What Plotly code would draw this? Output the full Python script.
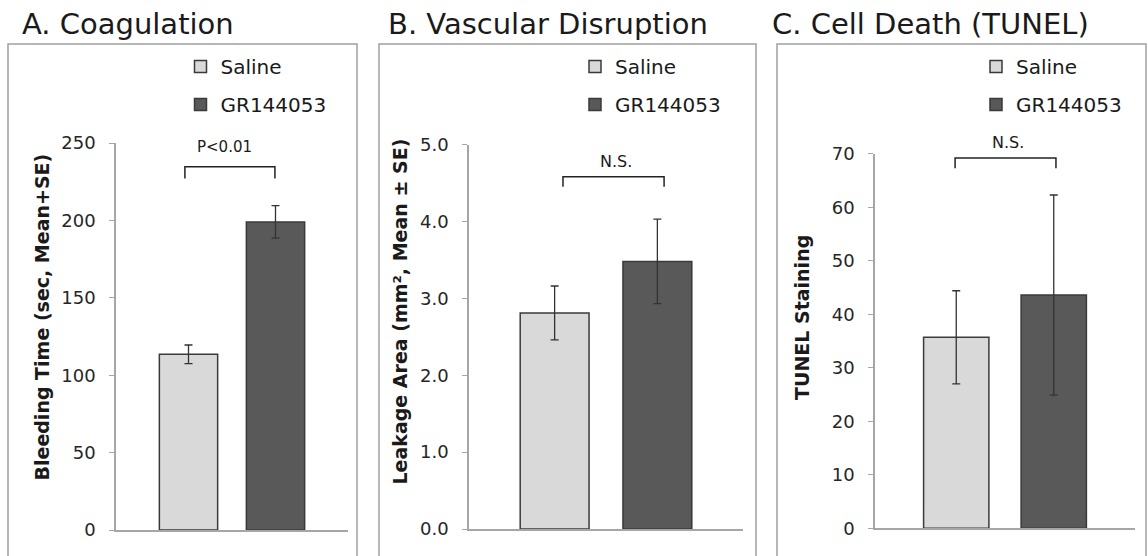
import plotly.graph_objects as go

# ---------------- data ----------------
groups = ["Saline", "GR144053"]
bar_colors = ["#d9d9d9", "#595959"]

coag_mean = [113.5, 199.0]
coag_se = [6.0, 10.5]

leak_mean = [2.81, 3.48]
leak_se = [0.35, 0.55]

tunel_mean = [35.7, 43.6]
tunel_se = [8.7, 18.7]

panel_titles = ["A. Coagulation", "B. Vascular Disruption", "C. Cell Death (TUNEL)"]
y_titles = ["Bleeding Time (sec, Mean+SE)", "Leakage Area (mm², Mean ± SE)", "TUNEL Staining"]
y_ranges = [[0, 250], [0, 5.0], [0, 70]]
y_dticks = [50, 1.0, 10]
y_formats = ["d", ".1f", "d"]
sig_labels = ["P<0.01", "N.S.", "N.S."]

W, H = 1148, 556
FONT = "DejaVu Sans"
TXT = "#1a1a1a"
GRID = "#a6a6a6"


def px(x):
    return x / W


def py(y):
    return 1 - y / H


fig = go.Figure()

series = [(coag_mean, coag_se), (leak_mean, leak_se), (tunel_mean, tunel_se)]
legend_names = ["legend", "legend2", "legend3"]

for p, (means, ses) in enumerate(series):
    ax = "" if p == 0 else str(p + 1)
    for g in range(2):
        fig.add_trace(go.Bar(
            x=["grp"], y=[means[g]], name=groups[g],
            marker=dict(color=bar_colors[g], line=dict(color="#3a3a3a", width=1.5)),
            error_y=dict(type="data", array=[ses[g]], visible=True,
                         color="#333333", thickness=1.3, width=4),
            xaxis="x" + ax, yaxis="y" + ax,
            legend=legend_names[p], legendgroup=f"g{p}{g}",
            showlegend=True,
        ))

x_dom = [(116, 348), (469, 743), (875, 1135)]
y_dom = [(530, 143), (529, 144.5), (528.3, 153.8)]

layout = dict(
    width=W, height=H,
    margin=dict(l=0, r=0, t=0, b=0, autoexpand=False),
    paper_bgcolor="white", plot_bgcolor="white",
    barmode="group", bargap=0.25, bargroupgap=0.33,
    font=dict(family=FONT, color=TXT),
    showlegend=True,
)

for p in range(3):
    ax = "" if p == 0 else str(p + 1)
    layout["xaxis" + ax] = dict(
        domain=[px(x_dom[p][0]), px(x_dom[p][1])],
        anchor="y" + ax, type="category", range=[-0.5, 0.5],
        showline=True, linecolor=GRID, linewidth=1.5,
        showticklabels=False, ticks="", showgrid=False, zeroline=False,
        fixedrange=True, automargin=False,
    )
    layout["yaxis" + ax] = dict(
        domain=[py(y_dom[p][0]), py(y_dom[p][1])],
        anchor="x" + ax, range=y_ranges[p], dtick=y_dticks[p],
        tickformat=y_formats[p],
        showline=True, linecolor=GRID, linewidth=1.5,
        ticks="outside", ticklen=5, tickcolor=GRID, tickwidth=1.2,
        ticklabelstandoff=10,
        tickfont=dict(size=18, color="#262626", family=FONT),
        showgrid=False, zeroline=False, fixedrange=True, automargin=False,
    )

# legends
leg_pos = [200.5, 595, 996]
for p in range(3):
    layout[legend_names[p]] = dict(
        x=px(leg_pos[p] - 20), xanchor="left",
        y=py(47), yanchor="top",
        bgcolor="rgba(0,0,0,0)", borderwidth=0,
        font=dict(size=20, color=TXT, family=FONT),
        traceorder="grouped", tracegroupgap=9,
        itemclick=False, itemdoubleclick=False,
    )

fig.update_layout(**layout)

# frames around each panel
frames = [(8, 357), (379, 756), (777, 1146)]
for (x0, x1) in frames:
    fig.add_shape(type="rect", xref="paper", yref="paper",
                  x0=px(x0), x1=px(x1), y0=-0.02, y1=py(44),
                  line=dict(color="#a0a0a0", width=1.5), fillcolor="rgba(0,0,0,0)",
                  layer="below")

# panel titles
title_x = [20, 386, 770]
for p in range(3):
    fig.add_annotation(text=panel_titles[p], xref="paper", yref="paper",
                       x=px(title_x[p]), y=py(24), xanchor="left", yanchor="middle",
                       showarrow=False, font=dict(size=29, color=TXT, family=FONT))

# y-axis titles
yt_pos = [(41, 317.5), (399, 311.5), (802, 318)]
for p in range(3):
    fig.add_annotation(text=y_titles[p], xref="paper", yref="paper",
                       x=px(yt_pos[p][0]), y=py(yt_pos[p][1]),
                       xanchor="center", yanchor="middle", textangle=-90,
                       showarrow=False,
                       font=dict(size=19, color=TXT, family=FONT, weight="bold"))

# significance brackets
br_x = [(-0.203, 0.185), (-0.157, 0.212), (-0.192, 0.196)]
br_y = [(227, 234.7), (4.45, 4.58), (67.3, 69.2)]
lab_xy = [(224, 146.7), (615.5, 162), (1007.5, 143)]
lab_size = [15, 16, 16]
for p in range(3):
    ax = "" if p == 0 else str(p + 1)
    x0, x1 = br_x[p]
    yb, yt = br_y[p]
    fig.add_shape(type="path", xref="x" + ax, yref="y" + ax,
                  path=f"M {x0},{yb} L {x0},{yt} L {x1},{yt} L {x1},{yb}",
                  line=dict(color="#222222", width=1.5))
    fig.add_annotation(text=sig_labels[p], xref="paper", yref="paper",
                       x=px(lab_xy[p][0]), y=py(lab_xy[p][1]),
                       xanchor="center", yanchor="middle",
                       showarrow=False, font=dict(size=lab_size[p], color=TXT, family=FONT))

fig.write_html("out.html")
